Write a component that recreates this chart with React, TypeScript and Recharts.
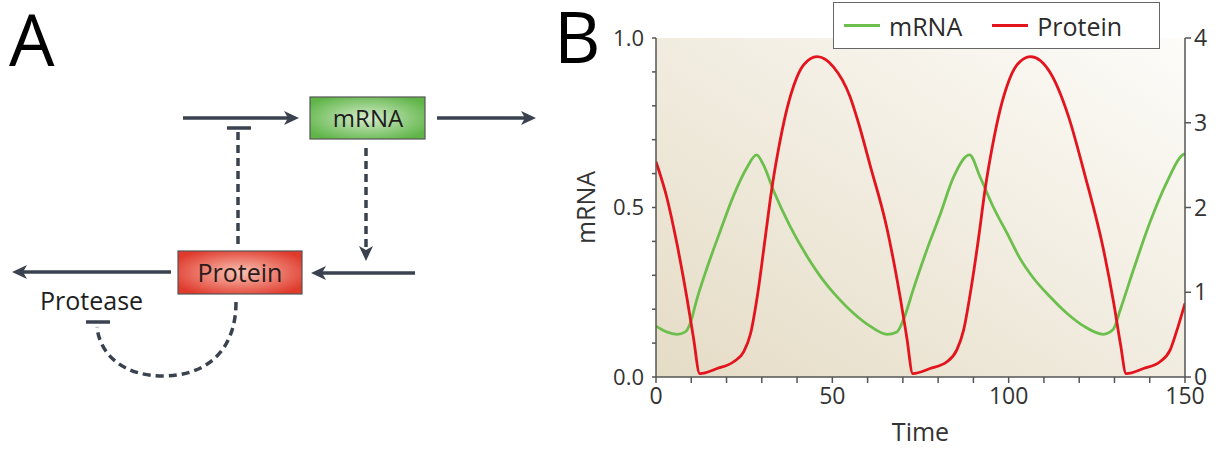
import React from "react";
import { LineChart, Line, XAxis, YAxis, Legend, ReferenceArea } from "recharts";

// values (time, level)
const mrnaTime = [
  0, 3, 6, 8.3, 9.7, 11.6, 14.4, 18.2, 22, 25.8, 28.5, 30.5, 33.4, 38.1, 42.9, 47.6, 51.3, 56, 60.7, 65.5,
  68.3, 70.2, 73, 76.8, 80.6, 84.3, 88.9, 91.9, 95.7, 99.5, 103.2, 107, 111.8, 116.5, 121.3, 126.8, 129.6,
  131.7, 135.5, 140.2, 145, 149.3, 150,
];
const mrnaLevel = [
  0.15, 0.133, 0.126, 0.133, 0.158, 0.23, 0.32, 0.43, 0.535, 0.618, 0.655, 0.625, 0.548, 0.443, 0.355, 0.283,
  0.237, 0.188, 0.15, 0.126, 0.133, 0.17, 0.26, 0.375, 0.48, 0.588, 0.655, 0.59, 0.5, 0.425, 0.35, 0.292,
  0.236, 0.188, 0.15, 0.126, 0.14, 0.2, 0.32, 0.46, 0.578, 0.655, 0.658,
];

const proteinTime = [
  0, 3, 5.9, 8.7, 10.6, 12.4, 17.3, 22, 24.9, 26.8, 28.9, 30.9, 32.8, 34.7, 36.6, 39, 41.8, 45.7, 50.3, 55,
  57.4, 60.7, 65.4, 69.2, 71.1, 72.8, 77.7, 82.5, 85.3, 87.2, 89.4, 91.4, 93.3, 95.2, 97.1, 99.5, 102.3,
  106.2, 111.8, 117, 121.5, 126.9, 129.8, 131.7, 133.3, 138.2, 142.9, 145.8, 147.7, 150,
];
const proteinLevel = [
  2.54, 2.13, 1.58, 0.95, 0.47, 0.04, 0.1, 0.18, 0.3, 0.51, 1.0, 1.62, 2.21, 2.68, 3.07, 3.43, 3.68, 3.78,
  3.66, 3.31, 3.0, 2.5, 1.77, 0.95, 0.47, 0.04, 0.1, 0.18, 0.32, 0.55, 1.06, 1.62, 2.21, 2.68, 3.07, 3.43,
  3.68, 3.78, 3.59, 3.07, 2.4, 1.5, 0.87, 0.39, 0.04, 0.1, 0.18, 0.32, 0.55, 0.87,
];

const seriesNames = ["mRNA", "Protein"];
const timeTicks = [0, 10, 20, 30, 40, 50, 60, 70, 80, 90, 100, 110, 120, 130, 140, 150];
const mrnaTicks = [0, 0.1, 0.2, 0.3, 0.4, 0.5, 0.6, 0.7, 0.8, 0.9, 1.0];
const proteinTicks = [0, 1, 2, 3, 4];

const mrnaData = mrnaTime.map((t, i) => ({ t, mRNA: mrnaLevel[i] }));
const proteinData = proteinTime.map((t, i) => ({ t, Protein: proteinLevel[i] }));

const FONT = "'Open Sans', 'Noto Sans', sans-serif";
const INK = "#39424e";
const GREEN = "#6cbf4c";
const RED = "#e3141d";

function Arrowhead({ x, y, dir }: { x: number; y: number; dir: "left" | "right" | "down" }) {
  if (dir === "right")
    return <polygon points={`${x},${y} ${x - 15},${y - 7} ${x - 11},${y} ${x - 15},${y + 7}`} fill={INK} />;
  if (dir === "left")
    return <polygon points={`${x},${y} ${x + 15},${y - 7} ${x + 11},${y} ${x + 15},${y + 7}`} fill={INK} />;
  return <polygon points={`${x},${y} ${x - 7},${y - 15} ${x},${y - 11} ${x + 7},${y - 15}`} fill={INK} />;
}

function Diagram() {
  return (
    <svg width={560} height={450} style={{ position: "absolute", left: 0, top: 0 }}>
      <defs>
        <radialGradient id="mrnaBox" cx="50%" cy="50%" r="60%">
          <stop offset="0%" stopColor="#d6eccb" />
          <stop offset="100%" stopColor="#5fb548" />
        </radialGradient>
        <radialGradient id="proteinBox" cx="50%" cy="50%" r="60%">
          <stop offset="0%" stopColor="#f8c2b4" />
          <stop offset="100%" stopColor="#e03a2c" />
        </radialGradient>
        <linearGradient id="plotBg" x1="0" y1="1" x2="1" y2="0">
          <stop offset="0%" stopColor="#e5dcc6" />
          <stop offset="100%" stopColor="#fdfcf9" />
        </linearGradient>
      </defs>
      <text x={9} y={66} fontFamily={FONT} fontSize={72} fontWeight={500} fill="#000">A</text>

      <line x1={183} y1={118} x2={290} y2={118} stroke={INK} strokeWidth={3.5} />
      <Arrowhead x={299} y={118} dir="right" />
      <rect x={310} y={97} width={115} height={42} fill="url(#mrnaBox)" stroke="#555" strokeWidth={1.2} />
      <text x={368} y={127} textAnchor="middle" fontFamily={FONT} fontSize={24} fill="#1e1e1e">mRNA</text>
      <line x1={437} y1={118} x2={527} y2={118} stroke={INK} strokeWidth={3.5} />
      <Arrowhead x={536} y={118} dir="right" />

      <line x1={227} y1={128} x2={251} y2={128} stroke={INK} strokeWidth={3.5} />
      <line x1={238} y1={132} x2={238} y2={244} stroke={INK} strokeWidth={3.5} strokeDasharray="8 5" />

      <line x1={366} y1={148} x2={366} y2={250} stroke={INK} strokeWidth={3.5} strokeDasharray="8 5" />
      <Arrowhead x={366} y={261} dir="down" />

      <rect x={178} y={251} width={124} height={43} fill="url(#proteinBox)" stroke="#555" strokeWidth={1.2} />
      <text x={240} y={282} textAnchor="middle" fontFamily={FONT} fontSize={25} fill="#2a1a1a">Protein</text>

      <line x1={171} y1={272} x2={22} y2={272} stroke={INK} strokeWidth={3.5} />
      <Arrowhead x={12} y={272} dir="left" />
      <line x1={415} y1={273} x2={321} y2={273} stroke={INK} strokeWidth={3.5} />
      <Arrowhead x={311} y={273} dir="left" />

      <text x={40} y={310} fontFamily={FONT} fontSize={25} fill="#1e1e1e">Protease</text>
      <line x1={86} y1={322} x2={110} y2={322} stroke={INK} strokeWidth={3.5} />
      <path
        d="M 236 302 C 236 352, 205 376, 163 376 C 125 376, 100 356, 97 327"
        fill="none"
        stroke={INK}
        strokeWidth={3.5}
        strokeDasharray="8 5"
      />
    </svg>
  );
}

function LegendBox({ payload }: any) {
  const items = [...(payload || [])].sort(
    (a: any, b: any) => seriesNames.indexOf(a.value) - seriesNames.indexOf(b.value)
  );
  return (
    <div
      style={{
        width: 325,
        height: 45,
        background: "#fff",
        border: "1.5px solid #666",
        display: "flex",
        alignItems: "center",
        fontFamily: FONT,
        fontSize: 25,
        color: "#2b2b2b",
        boxSizing: "content-box",
      }}
    >
      {items.map((p: any, i: number) => (
        <div key={p.value} style={{ display: "flex", alignItems: "center", marginLeft: i === 0 ? 10 : 30 }}>
          <div style={{ width: 36, height: 2.5, background: p.color, marginRight: 9 }} />
          <span>{p.value}</span>
        </div>
      ))}
    </div>
  );
}

export default function App() {
  return (
    <div style={{ position: "absolute", left: 0, top: 0, width: 1228, height: 450, background: "#fff" }}>
      <Diagram />
      <svg width={80} height={80} style={{ position: "absolute", left: 550, top: 0 }}>
        <text x={4} y={63} fontFamily={FONT} fontSize={72} fontWeight={500} fill="#000">B</text>
      </svg>
      <div style={{ position: "absolute", left: 0, top: 0 }}>
        <LineChart width={1228} height={450} margin={{ top: 38, right: 0, bottom: 0, left: 566 }}>
          <XAxis
            dataKey="t"
            type="number"
            domain={[0, 150]}
            ticks={timeTicks}
            interval={0}
            tickFormatter={(v: number) => (v % 50 === 0 ? String(v) : "")}
            height={73}
            tickSize={6}
            tickMargin={5}
            stroke="#555"
            strokeWidth={1.5}
            tick={{ fill: "#333", fontSize: 23, fontFamily: FONT }}
            allowDataOverflow
            label={{ value: "Time", position: "insideBottom", offset: 9, fill: "#333", fontSize: 25, fontFamily: FONT }}
          />
          <YAxis
            yAxisId="left"
            orientation="left"
            domain={[0, 1]}
            ticks={mrnaTicks}
            interval={0}
            tickFormatter={(v: number) => (Math.abs(v * 2 - Math.round(v * 2)) < 1e-9 ? v.toFixed(1) : "")}
            width={90}
            tickSize={4}
            tickMargin={8}
            stroke="#555"
            strokeWidth={1.5}
            tick={{ fill: "#333", fontSize: 22, fontFamily: FONT }}
            label={(props: any) => {
              const vb = props.viewBox;
              const cx = vb.x + 29;
              const cy = vb.y + vb.height / 2;
              return (
                <text
                  x={cx}
                  y={cy}
                  transform={`rotate(-90 ${cx} ${cy})`}
                  textAnchor="middle"
                  fontFamily={FONT}
                  fontSize={25}
                  fill="#333"
                >
                  mRNA
                </text>
              );
            }}
          />
          <YAxis
            yAxisId="right"
            orientation="right"
            domain={[0, 4]}
            ticks={proteinTicks}
            interval={0}
            width={43}
            tickSize={6}
            tickMargin={3}
            stroke="#555"
            strokeWidth={1.5}
            tick={{ fill: "#333", fontSize: 23, fontFamily: FONT }}
          />
          <ReferenceArea
            yAxisId="left"
            x1={0}
            x2={150}
            y1={0}
            y2={1}
            fill="url(#plotBg)"
            fillOpacity={1}
            stroke="none"
          />
          <Legend
            content={<LegendBox />}
            layout="horizontal"
            verticalAlign="middle"
            align="center"
            wrapperStyle={{ position: "absolute", left: 833, top: 2, width: 330, height: 48 }}
          />
          <Line
            yAxisId="left"
            data={mrnaData}
            dataKey="mRNA"
            name="mRNA"
            type="monotone"
            stroke={GREEN}
            strokeWidth={2.8}
            dot={false}
            isAnimationActive={false}
          />
          <Line
            yAxisId="right"
            data={proteinData}
            dataKey="Protein"
            name="Protein"
            type="monotone"
            stroke={RED}
            strokeWidth={2.8}
            dot={false}
            isAnimationActive={false}
          />
        </LineChart>
      </div>
    </div>
  );
}
